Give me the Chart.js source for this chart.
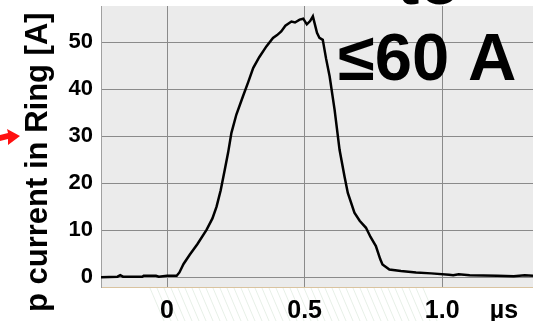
<!DOCTYPE html>
<html>
<head>
<meta charset="utf-8">
<script src="https://cdn.jsdelivr.net/npm/chart.js@4"></script>
<style>
  html, body { margin: 0; padding: 0; background: #ffffff; }
  #wrap { width: 533px; height: 321px; position: relative; }
</style>
</head>
<body>
<div id="wrap"><canvas id="pulse"></canvas></div>
<script>
// time in microseconds, current in ampere
var timeUs = [-0.24, -0.18, -0.17, -0.16, -0.09, -0.085, -0.04, -0.03, 0.0, 0.035,
  0.045, 0.06, 0.083, 0.11, 0.144, 0.165, 0.18, 0.195, 0.21, 0.222,
  0.234, 0.252, 0.276, 0.295, 0.313, 0.335, 0.361, 0.385, 0.40, 0.415,
  0.43, 0.452, 0.465, 0.482, 0.495, 0.508, 0.52, 0.53, 0.545, 0.554,
  0.566, 0.578, 0.591, 0.609, 0.627, 0.645, 0.657, 0.681, 0.70, 0.723,
  0.74, 0.759, 0.775, 0.783, 0.808, 0.85, 0.905, 0.96, 1.025, 1.04,
  1.06, 1.1, 1.2, 1.26, 1.3, 1.33];
var currentA = [0.0, 0.1, 0.4, 0.1, 0.1, 0.3, 0.3, 0.1, 0.3, 0.3,
  1.0, 2.8, 4.8, 7.0, 10.1, 12.5, 15.0, 18.5, 22.9, 26.5,
  30.7, 34.6, 38.5, 41.5, 44.5, 46.8, 49.1, 50.9, 51.5, 52.3,
  53.5, 54.4, 54.2, 54.8, 55.0, 53.8, 54.5, 55.5, 52.0, 50.9,
  50.5, 46.5, 42.7, 35.6, 27.1, 21.4, 17.9, 13.7, 12.0, 10.5,
  8.5, 6.6, 3.8, 2.7, 1.6, 1.3, 1.0, 0.8, 0.5, 0.4,
  0.6, 0.4, 0.3, 0.2, 0.4, 0.3];
var xTicks = [0, 0.5, 1.0];
var xTickLabels = ["0", "0.5", "1.0"];
var yTicks = [0, 10, 20, 30, 40, 50];

var points = timeUs.map(function (t, i) { return { x: t, y: currentA[i] }; });

var FONT = "'Liberation Sans', Arial, sans-serif";

var decor = {
  id: "decor",
  beforeDraw: function (chart) {
    var c = chart.ctx, a = chart.chartArea;
    c.save();
    // faint slide background hatching
    c.strokeStyle = "rgba(120,170,120,0.18)";
    c.lineWidth = 1;
    for (var i = 0; i < 40; i++) {
      var x0 = 150 + i * 7;
      c.beginPath();
      c.moveTo(x0, 288);
      c.lineTo(x0 + 14, 321);
      c.stroke();
    }
    c.fillStyle = "#ebebeb";
    c.fillRect(a.left, a.top, a.right - a.left, a.bottom - a.top);
    c.restore();
  },
  afterDraw: function (chart) {
    var c = chart.ctx;
    c.save();
    // axis title
    c.translate(47, 312);
    c.rotate(-Math.PI / 2);
    c.fillStyle = "#000";
    c.font = "bold 31px " + FONT;
    c.textBaseline = "alphabetic";
    c.textAlign = "left";
    c.fillText("p current in Ring [A]", 0, 0);
    c.restore();

    c.save();
    c.fillStyle = "#000";
    c.font = "bold 25px " + FONT;
    c.textAlign = "center";
    c.textBaseline = "alphabetic";
    c.fillText("\u00b5s", 504, 318);
    c.font = "bold 67px " + FONT;
    c.textAlign = "left";
    c.fillText("\u226460 A", 338, 80);
    c.fillText("to", 397, 4);
    // red arrow
    c.fillStyle = "#ff1010";
    c.beginPath();
    c.moveTo(0, 135);
    c.lineTo(8, 133);
    c.lineTo(7, 129);
    c.lineTo(20, 136);
    c.lineTo(8, 145);
    c.lineTo(8, 139);
    c.lineTo(0, 141);
    c.closePath();
    c.fill();
    c.restore();
  }
};

new Chart(document.getElementById("pulse").getContext("2d"), {
  type: "line",
  data: {
    datasets: [{
      data: points,
      borderColor: "#000000",
      borderWidth: 2.5,
      pointRadius: 0,
      tension: 0,
      fill: false
    }]
  },
  options: {
    responsive: true,
    maintainAspectRatio: false,
    animation: false,
    events: [],
    layout: { padding: { left: 0, right: 0, top: 6, bottom: 0 } },
    plugins: { legend: { display: false }, tooltip: { enabled: false } },
    scales: {
      x: {
        type: "linear",
        min: -0.24,
        max: 1.33,
        afterBuildTicks: function (scale) {
          scale.ticks = xTicks.map(function (v) { return { value: v }; });
        },
        afterFit: function (scale) {
          scale.height = 34;
          scale.paddingLeft = 0;
          scale.paddingRight = 0;
        },
        ticks: {
          color: "#000",
          font: { family: FONT, size: 25, weight: "bold" },
          padding: 9,
          maxRotation: 0,
          callback: function (v) { return xTickLabels[xTicks.indexOf(v)]; }
        },
        grid: { color: "#8a8a8a", lineWidth: 1, drawTicks: false },
        border: { color: "#d9c3a0", width: 1 }
      },
      y: {
        min: -2.1,
        max: 57.7,
        afterBuildTicks: function (scale) {
          scale.ticks = yTicks.map(function (v) { return { value: v }; });
        },
        afterFit: function (scale) {
          scale.width = 101;
          scale.paddingTop = 0;
          scale.paddingBottom = 0;
        },
        ticks: {
          color: "#000",
          font: { family: FONT, size: 22, weight: "bold" },
          padding: 8
        },
        grid: { color: "#8a8a8a", lineWidth: 1, drawTicks: false },
        border: { color: "#a0a0a0", width: 1 }
      }
    }
  },
  plugins: [decor]
});
</script>
</body>
</html>
